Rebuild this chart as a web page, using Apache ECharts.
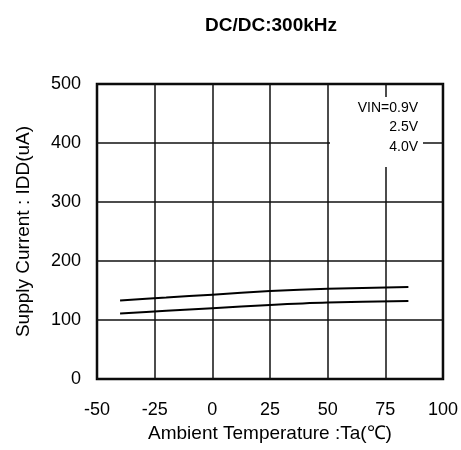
<!DOCTYPE html>
<html><head><meta charset="utf-8">
<script src="https://cdn.jsdelivr.net/npm/echarts@6/dist/echarts.min.js"></script>
<style>html,body{margin:0;padding:0;background:#fff}#c{width:461px;height:450px}</style>
</head><body><div id="c"></div>
<script>
const titleText = "DC/DC:300kHz";
const xName = "Ambient Temperature :Ta(\u2103)";
const yName = "Supply Current : IDD(uA)";
const legendLines = ["VIN=0.9V", "2.5V", "4.0V"];
const temps = [-40, -20, 0, 25, 50, 85];
const upperIdd = [133, 138, 143, 149, 153, 156];
const lowerIdd = [111, 115.5, 120, 125.5, 129.5, 132];
const xMin = -50, xMax = 100, xStep = 25;
const yMin = 0, yMax = 500, yStep = 100;

const chart = echarts.init(document.getElementById('c'), null, {renderer: 'canvas'});
const font = 'Liberation Sans, Arial, sans-serif';
chart.setOption({
  animation: false,
  backgroundColor: '#fff',
  title: {text: titleText, left: 266, top: 11, textAlign: 'center',
    textStyle: {fontFamily: font, fontSize: 19, fontWeight: 'bold', color: '#000'}},
  grid: {left: 97, right: 16, top: 84, bottom: 71, show: true, borderColor: '#000', borderWidth: 2.5},
  xAxis: {type: 'value', min: xMin, max: xMax, interval: xStep,
    name: xName, nameLocation: 'middle', nameGap: 44,
    nameTextStyle: {fontFamily: font, fontSize: 19, color: '#000'},
    axisLine: {show: false}, axisTick: {show: false},
    axisLabel: {fontFamily: font, fontSize: 18, color: '#000', margin: 22},
    splitLine: {show: true, lineStyle: {color: '#111', width: 1.5}}},
  yAxis: {type: 'value', min: yMin, max: yMax, interval: yStep,
    name: yName, nameLocation: 'middle', nameGap: 64,
    nameTextStyle: {fontFamily: font, fontSize: 19, color: '#000'},
    axisLine: {show: false}, axisTick: {show: false},
    axisLabel: {fontFamily: font, fontSize: 18, color: '#000', margin: 16},
    splitLine: {show: true, lineStyle: {color: '#111', width: 1.5}}},
  series: [
    {type: 'line', data: temps.map((t, i) => [t, upperIdd[i]]), smooth: 0.3, symbol: 'none',
      lineStyle: {color: '#000', width: 2}},
    {type: 'line', data: temps.map((t, i) => [t, lowerIdd[i]]), smooth: 0.3, symbol: 'none',
      lineStyle: {color: '#000', width: 2}}
  ],
  graphic: [
    {type: 'rect', shape: {x: 330, y: 97, width: 93, height: 70}, style: {fill: '#fff'}, z: 100},
    {type: 'text', x: 418, y: 108, z: 101, style: {text: legendLines[0], font: '14px ' + font, fill: '#000', textAlign: 'right', textVerticalAlign: 'middle'}},
    {type: 'text', x: 418, y: 127, z: 101, style: {text: legendLines[1], font: '14px ' + font, fill: '#000', textAlign: 'right', textVerticalAlign: 'middle'}},
    {type: 'text', x: 418, y: 147, z: 101, style: {text: legendLines[2], font: '14px ' + font, fill: '#000', textAlign: 'right', textVerticalAlign: 'middle'}}
  ]
});
</script></body></html>
